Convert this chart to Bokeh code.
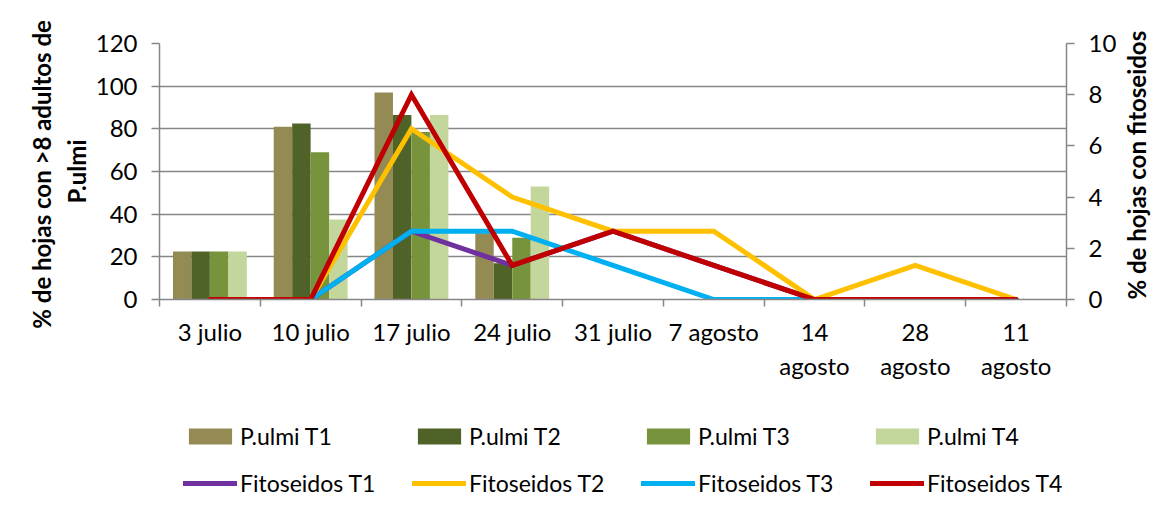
import math
from bokeh.plotting import figure
from bokeh.layouts import column
from bokeh.models import (ColumnDataSource, Range1d, LinearAxis, FixedTicker,
                          Legend, LegendItem, Grid)
from bokeh.transform import dodge
from bokeh.embed import file_html
from bokeh.resources import INLINE

# ---- data -------------------------------------------------------------
categories = ["3 julio", "10 julio", "17 julio", "24 julio", "31 julio",
              "7 agosto", "14\nagosto", "28\nagosto", "11\nagosto"]

pulmi_t1 = [22.5, 81.0, 97.0, 31.0, 0, 0, 0, 0, 0]
pulmi_t2 = [22.5, 82.5, 86.5, 17.0, 0, 0, 0, 0, 0]
pulmi_t3 = [22.5, 69.0, 78.5, 29.0, 0, 0, 0, 0, 0]
pulmi_t4 = [22.5, 37.5, 86.5, 53.0, 0, 0, 0, 0, 0]

fito_t1 = [0, 0, 2.67, 1.33, 2.67, 1.33, 0, 0, 0]
fito_t2 = [0, 0, 6.67, 4.0, 2.67, 2.67, 0, 1.33, 0]
fito_t3 = [0, 0, 2.67, 2.67, 1.33, 0, 0, 0, 0]
fito_t4 = [0, 0, 8.0, 1.33, 2.67, 1.33, 0, 0, 0]

left_ticks = [0, 20, 40, 60, 80, 100, 120]
right_ticks = [0, 2, 4, 6, 8, 10]

bar_names = ["P.ulmi T1", "P.ulmi T2", "P.ulmi T3", "P.ulmi T4"]
line_names = ["Fitoseidos T1", "Fitoseidos T2", "Fitoseidos T3", "Fitoseidos T4"]
bar_colors = ["#948A54", "#4F6228", "#77933C", "#C3D69B"]
line_colors = ["#7030A0", "#FFC000", "#00B0F0", "#C00000"]

FONT = "Lato"
FS = "24px"
GREY = "#868686"

# ---- layout (pixels) ---------------------------------------------------
W, H_MAIN, H_LEG = 1168, 410, 97
F_LEFT, F_RIGHT, F_TOP, F_BOTTOM = 159, 1067, 43, 299

n = len(categories)
xc = [i + 0.5 for i in range(n)]
src = ColumnDataSource(dict(x=xc, b1=pulmi_t1, b2=pulmi_t2, b3=pulmi_t3, b4=pulmi_t4,
                            f1=fito_t1, f2=fito_t2, f3=fito_t3, f4=fito_t4))

p = figure(width=W, height=H_MAIN, x_range=Range1d(0, n),
           y_range=Range1d(left_ticks[0], left_ticks[-1]),
           x_axis_type=None, y_axis_type=None,
           output_backend="svg", toolbar_location=None,
           min_border_left=F_LEFT, min_border_right=W - F_RIGHT,
           min_border_top=F_TOP, min_border_bottom=H_MAIN - F_BOTTOM)
p.outline_line_color = None
p.extra_y_ranges = {"right": Range1d(right_ticks[0], right_ticks[-1])}

# axes
xaxis = LinearAxis(ticker=FixedTicker(ticks=xc, minor_ticks=list(range(n + 1))),
                   major_label_overrides={x: c for x, c in zip(xc, categories)})
xaxis.major_tick_line_color = None
xaxis.major_tick_out = 7
xaxis.major_tick_in = 0
xaxis.minor_tick_out = 7
xaxis.minor_tick_in = 0
xaxis.minor_tick_line_color = GREY
xaxis.minor_tick_line_width = 1.5
xaxis.major_label_standoff = 10

yaxis = LinearAxis(ticker=FixedTicker(ticks=left_ticks),
                   axis_label="% de hojas con >8  adultos de\nP.ulmi")
raxis = LinearAxis(y_range_name="right", ticker=FixedTicker(ticks=right_ticks),
                   axis_label="% de hojas con fitoseidos")
raxis.axis_label_orientation = math.pi / 2
raxis.axis_label_align = "start"

for ax in (xaxis, yaxis, raxis):
    ax.axis_line_color = GREY
    ax.axis_line_width = 1.5
    ax.major_label_text_font = FONT
    ax.major_label_text_font_size = FS
    ax.major_label_text_color = "black"
    ax.axis_label_text_font = FONT
    ax.axis_label_text_font_style = "bold"
    ax.axis_label_text_font_size = "24px"
    ax.axis_label_text_color = "black"
for ax in (yaxis, raxis):
    ax.major_tick_line_color = GREY
    ax.major_tick_line_width = 1.5
    ax.major_tick_out = 8
    ax.major_tick_in = 0
    ax.minor_tick_line_color = None
yaxis.major_label_standoff = 14
raxis.major_label_standoff = 14
raxis.major_label_text_align = "left"
yaxis.axis_label_standoff = 2
raxis.axis_label_standoff = 17

p.add_layout(xaxis, "below")
p.add_layout(yaxis, "left")
p.add_layout(raxis, "right")
p.add_layout(Grid(dimension=1, ticker=yaxis.ticker, grid_line_color=GREY,
                  grid_line_width=1.5))

# bars
bw = 0.183
offsets = [-0.275, -0.092, 0.092, 0.275]
bar_cols = ["b1", "b2", "b3", "b4"]
for col, off, colr in zip(bar_cols, offsets, bar_colors):
    p.vbar(x=dodge("x", off, range=p.x_range), top=col, width=bw, source=src,
           fill_color=colr, line_color=None)

# lines
line_cols = ["f1", "f2", "f3", "f4"]
for col, colr in zip(line_cols, line_colors):
    p.line("x", col, source=src, y_range_name="right", line_color=colr,
           line_width=5, line_cap="round", line_join="miter")

# ---- legend strip: same series and styles, kept outside its view --------
pl = figure(width=W, height=H_LEG, x_range=Range1d(-20, -10),
            y_range=Range1d(1000, 2000),
            x_axis_type=None, y_axis_type=None, output_backend="svg",
            toolbar_location=None, min_border=0)
pl.outline_line_color = None
items = []
for nm, col, off, colr in zip(bar_names, bar_cols, offsets, bar_colors):
    r = pl.vbar(x=dodge("x", off, range=pl.x_range), top=col, width=bw, source=src,
                fill_color=colr, line_color=None)
    items.append(LegendItem(label=nm, renderers=[r]))
for nm, col, colr in zip(line_names, line_cols, line_colors):
    r = pl.line("x", col, source=src, line_color=colr, line_width=5, line_cap="round")
    items.append(LegendItem(label=nm, renderers=[r]))
legend = Legend(items=items, orientation="horizontal", ncols=4,
                location=(24, 10), margin=0, padding=0,
                glyph_width=54, glyph_height=20, label_standoff=3,
                spacing=19, label_width=153, label_height=16,
                label_text_font=FONT, label_text_font_size="23px",
                label_text_color="black",
                border_line_color=None, background_fill_alpha=0)
pl.add_layout(legend, "center")

layout = column(p, pl, spacing=0)
open("out.html", "w").write(file_html(layout, INLINE))
